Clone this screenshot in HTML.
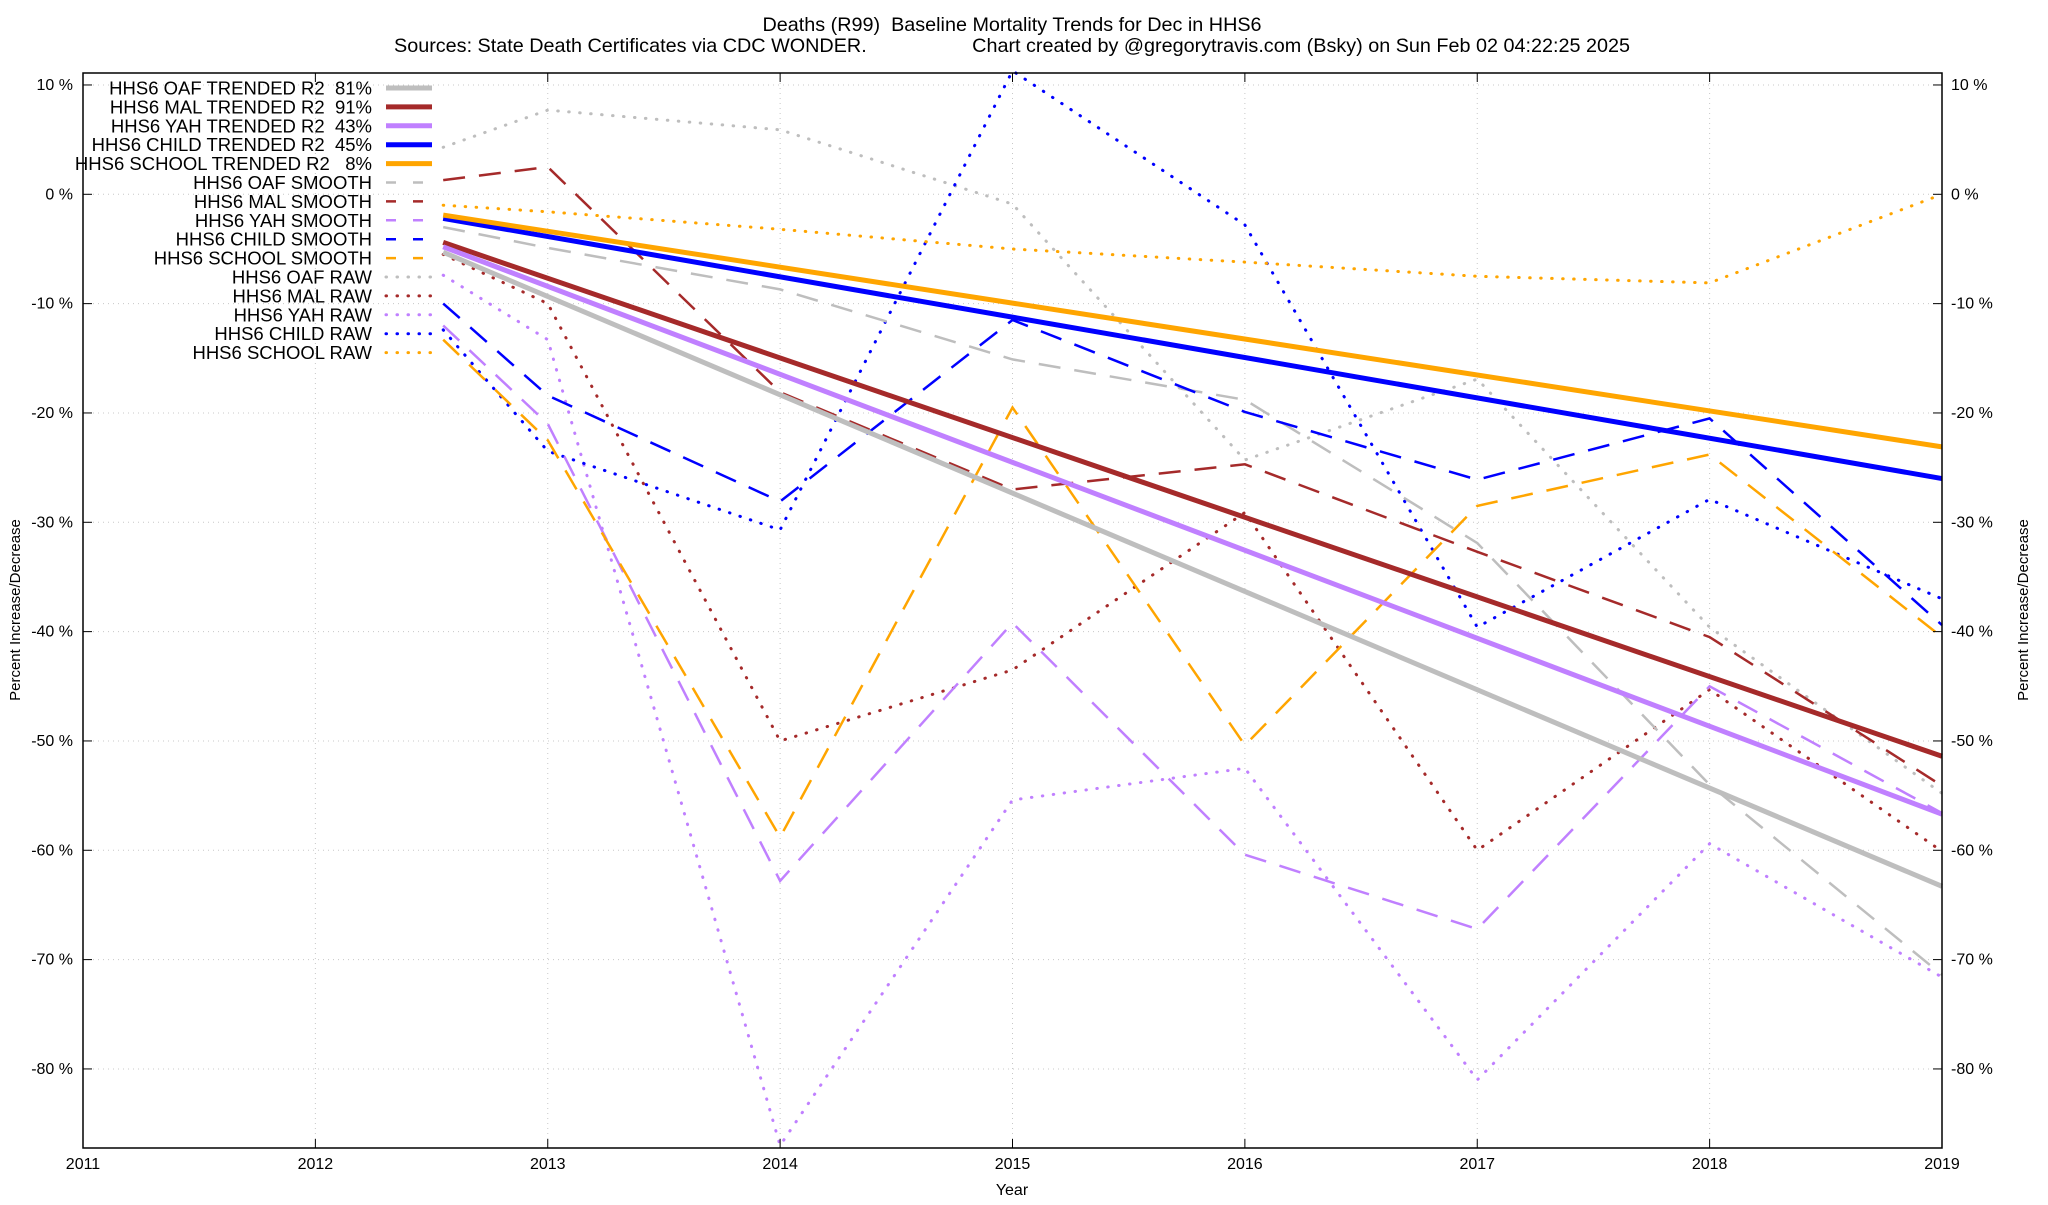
<!DOCTYPE html>
<html><head><meta charset="utf-8"><style>
html,body{margin:0;padding:0;background:#fff}
svg text{font-family:"Liberation Sans",Arial,sans-serif;fill:#000;white-space:pre}
</style></head><body>
<svg id="chart" width="2048" height="1200" viewBox="0 0 2048 1200" xmlns="http://www.w3.org/2000/svg">
<rect width="2048" height="1200" fill="#fff"/>
<text x="1012" y="31" font-size="19.8" text-anchor="middle">Deaths (R99)  Baseline Mortality Trends for Dec in HHS6</text>
<text x="394" y="52" font-size="19.8">Sources: State Death Certificates via CDC WONDER.</text>
<text x="1630" y="52" font-size="19.8" text-anchor="end">Chart created by @gregorytravis.com (Bsky) on Sun Feb 02 04:22:25 2025</text>
<g id="grid"></g>
<g id="series"></g>
<rect x="83" y="73" width="1859" height="1075" fill="none" stroke="#000" stroke-width="1.5"/>
<g id="axes"></g>
<g id="legend"></g>
<text x="1012" y="1195" font-size="16" text-anchor="middle">Year</text>
<text transform="translate(20,610) rotate(-90)" font-size="15" text-anchor="middle">Percent Increase/Decrease</text>
<text transform="translate(2028,610) rotate(-90)" font-size="15" text-anchor="middle">Percent Increase/Decrease</text>
</svg>
<script>
const xYears = [2012.55, 2013, 2014, 2015, 2016, 2017, 2018, 2019];
const xTicks = [2011, 2012, 2013, 2014, 2015, 2016, 2017, 2018, 2019];
const yTicks = [10, 0, -10, -20, -30, -40, -50, -60, -70, -80];
const seriesNames = ["HHS6 OAF TRENDED R2  81%","HHS6 MAL TRENDED R2  91%","HHS6 YAH TRENDED R2  43%","HHS6 CHILD TRENDED R2  45%","HHS6 SCHOOL TRENDED R2   8%","HHS6 OAF SMOOTH","HHS6 MAL SMOOTH","HHS6 YAH SMOOTH","HHS6 CHILD SMOOTH","HHS6 SCHOOL SMOOTH","HHS6 OAF RAW","HHS6 MAL RAW","HHS6 YAH RAW","HHS6 CHILD RAW","HHS6 SCHOOL RAW"];
const trendStartX = [2012.55, 2012.55, 2012.55, 2012.55, 2012.55];
const trendEndX = [2019, 2019, 2019, 2019, 2019];
const trendStart = [-5.3, -4.4, -4.8, -2.2, -1.9];
const trendEnd = [-63.3, -51.4, -56.7, -26.0, -23.1];
const oafSmooth = [-3, -4.9, -8.7, -15.1, -18.8, -31.9, -54, -71.4];
const malSmooth = [1.3, 2.5, -18.1, -27, -24.7, -32.7, -40.5, -54.1];
const yahSmooth = [-12, -21, -62.8, -39.2, -60.4, -67.2, -45, -56.6];
const childSmooth = [-10, -18.4, -28.1, -11.5, -19.9, -26.1, -20.5, -39.4];
const schoolSmooth = [-13.3, -22.5, -58.8, -19.5, -50.4, -28.5, -23.8, -40.5];
const oafRaw = [4.3, 7.7, 5.9, -0.9, -24.3, -16.9, -39.6, -54.8];
const malRaw = [-5.5, -10, -50, -43.5, -29.1, -60, -45.3, -60.1];
const yahRaw = [-7.4, -13.3, -87, -55.4, -52.5, -81, -59.4, -71.6];
const childRaw = [-12.4, -23.5, -30.7, 11.3, -2.8, -39.6, -27.9, -37];
const schoolRaw = [-1, -1.6, -3.2, -5, -6.2, -7.5, -8.1, 0];

const colors = ["#bebebe","#a52a2a","#c080ff","#0000ff","#ffa500"];
const NS = "http://www.w3.org/2000/svg";
const X0=83, X1=1942, Y0=73, Y1=1148;
function xs(v){ return X0 + (v-2011)/8*(X1-X0); }
function ys(v){ return 194.3 - v*10.933; }
function mk(tag, attrs, parent){ const e=document.createElementNS(NS,tag); for(const k in attrs) e.setAttribute(k,attrs[k]); parent.appendChild(e); return e; }
const grid=document.getElementById('grid'), axes=document.getElementById('axes'), ser=document.getElementById('series'), leg=document.getElementById('legend');

xTicks.forEach(t=>{
  const x=xs(t);
  if(t>2011 && t<2019){
    const g=mk('line',{x1:x,x2:x,y1:Y0,y2:Y1,stroke:'#c8c8c8','stroke-width':1,'stroke-dasharray':'1,4'},grid);
    
    
    mk('line',{x1:x,x2:x,y1:Y1,y2:Y1-9,stroke:'#000'},axes);
    mk('line',{x1:x,x2:x,y1:Y0,y2:Y0+9,stroke:'#000'},axes);
  }
  const tx=mk('text',{x:x,y:1169,'font-size':16,'text-anchor':'middle'},axes);
  tx.textContent=t;
  
  
});
yTicks.forEach(t=>{
  const y=ys(t);
  const g=mk('line',{x1:X0,x2:X1,y1:y,y2:y,stroke:'#c8c8c8','stroke-width':1,'stroke-dasharray':'1,4'},grid);
  
  
  mk('line',{x1:X0,x2:X0+9,y1:y,y2:y,stroke:'#000'},axes);
  mk('line',{x1:X1,x2:X1-9,y1:y,y2:y,stroke:'#000'},axes);
  const l=mk('text',{x:73,y:y+5,'font-size':16,'text-anchor':'end'},axes);
  l.textContent=t+' %';
  
  
  const r=mk('text',{x:1951,y:y+5,'font-size':16},axes);
  r.textContent=t+' %';
  
  
});

const DASH='22,14', DOT='0.5,10.5';
function pts(arr){ return arr.map((v,i)=>xs(xYears[i]).toFixed(1)+','+ys(v).toFixed(1)).join(' '); }
const smooths=[oafSmooth,malSmooth,yahSmooth,childSmooth,schoolSmooth];
const raws=[oafRaw,malRaw,yahRaw,childRaw,schoolRaw];
const keys=['oaf','mal','yah','child','school'];
raws.forEach((a,i)=>{
  const p=mk('polyline',{points:pts(a),fill:'none',stroke:colors[i],'stroke-width':3,'stroke-dasharray':DOT,'stroke-linecap':'round'},ser);
  
  
});
smooths.forEach((a,i)=>{
  const p=mk('polyline',{points:pts(a),fill:'none',stroke:colors[i],'stroke-width':2.5,'stroke-dasharray':DASH},ser);
  
  
});
trendStart.forEach((v,i)=>{
  const p=mk('line',{x1:xs(trendStartX[i]),y1:ys(v),x2:xs(trendEndX[i]),y2:ys(trendEnd[i]),stroke:colors[i],'stroke-width':5},ser);
  
  
});

seriesNames.forEach((n,i)=>{
  const y=88+i*18.9;
  const t=mk('text',{x:372,y:y+6.5,'font-size':18.5,'text-anchor':'end'},leg);
  t.textContent=n;
  
  
  const grp=Math.floor(i/5);
  const a={x1:386,x2:432,y1:y,y2:y,stroke:colors[i%5],'stroke-width':grp===0?5:(grp===1?2.5:3)};
  if(grp===1){a['stroke-dasharray']='10,17';}
  if(grp===2){a['stroke-linecap']='round';a['stroke-dasharray']='0.5,10.5';}
  const sw=mk('line',a,leg);
  
  
});
</script>
</body></html>
